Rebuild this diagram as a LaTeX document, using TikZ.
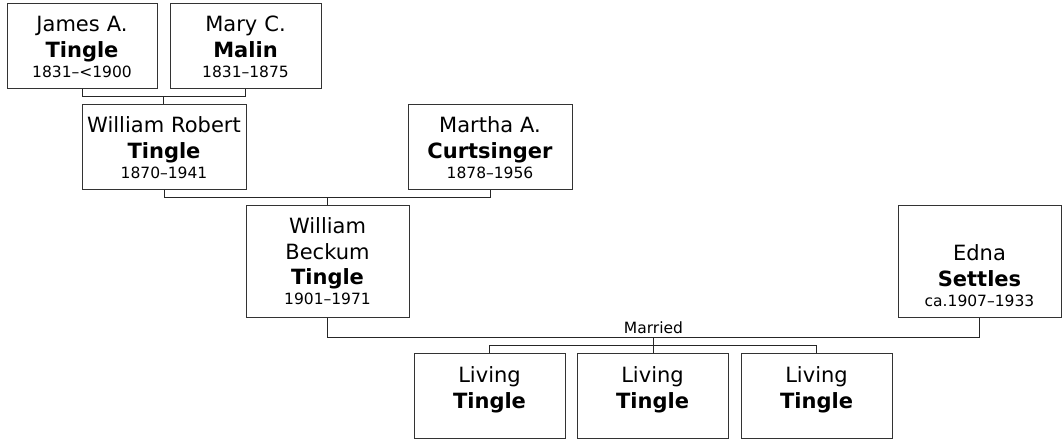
\documentclass[tikz,border=0pt]{standalone}
\usepackage{fontspec}
\setmainfont{DejaVu Sans}
\usepackage{tikz}
\usetikzlibrary{positioning, calc}

\newcommand{\yrs}[1]{{\fontsize{15.5}{19}\selectfont #1}}

\begin{document}
\begin{tikzpicture}[
  x=1pt, y=-1pt,
  person/.style={rectangle, draw=black!80, line width=1pt, minimum height=85pt},
  names/.style={anchor=base, text width=170pt, align=center, inner sep=0pt, font=\fontsize{21}{25.5}\selectfont},
  link/.style={draw=black!85, line width=0.9pt},
  tag/.style={font=\fontsize{15.5}{19}\selectfont, inner sep=1pt}
]
  \useasboundingbox (0,0) rectangle (1062,440);

  \node[person, minimum width=150pt] (james)  at (82,45.5)    {};
  \node[person, minimum width=151pt] (mary)   at (245.5,45.5) {};
  \node[person, minimum width=164pt] (wr)     at (164,146.5)  {};
  \node[person, minimum width=164pt] (martha) at (490,146.5)  {};
  \node[person, minimum width=163pt, minimum height=112pt] (wb)   at (327.5,261) {};
  \node[person, minimum width=163pt, minimum height=112pt] (edna) at (979.5,261) {};
  \node[person, minimum width=151pt] (kid1) at (489.5,395.5) {};
  \node[person, minimum width=151pt] (kid2) at (652.5,395.5) {};
  \node[person, minimum width=151pt] (kid3) at (816.5,395.5) {};

  \node[names] (james-t)  at ([yshift=-29pt]james.north)  {James A.\\\textbf{Tingle}\\[-5.5pt]\yrs{1831–<1900}};
  \node[names] (mary-t)   at ([yshift=-29pt]mary.north)   {Mary C.\\\textbf{Malin}\\[-5.5pt]\yrs{1831–1875}};
  \node[names] (wr-t)     at ([yshift=-29pt]wr.north)     {William Robert\\\textbf{Tingle}\\[-5.5pt]\yrs{1870–1941}};
  \node[names] (martha-t) at ([yshift=-29pt]martha.north) {Martha A.\\\textbf{Curtsinger}\\[-5.5pt]\yrs{1878–1956}};
  \node[names] (wb-t)     at ([yshift=-29pt]wb.north)     {William\\Beckum\\\textbf{Tingle}\\[-5.5pt]\yrs{1901–1971}};
  \node[names] (edna-t)   at ([yshift=-56pt]edna.north)   {Edna\\\textbf{Settles}\\[-5.5pt]\yrs{ca.1907–1933}};
  \node[names] (kid1-t)   at ([yshift=-30pt]kid1.north)   {Living\\\textbf{Tingle}};
  \node[names] (kid2-t)   at ([yshift=-30pt]kid2.north)   {Living\\\textbf{Tingle}};
  \node[names] (kid3-t)   at ([yshift=-30pt]kid3.north)   {Living\\\textbf{Tingle}};

  % parents of William Robert
  \coordinate (jm) at ($(james.south)!0.5!(mary.south)+(0,8)$);
  \draw[link] (james.south) |- (jm) -| (mary.south);
  \draw[link] (jm) -- (jm |- wr.north);

  % parents of William Beckum
  \coordinate (wm) at ($(wr.south)!0.5!(martha.south)+(0,8)$);
  \draw[link] (wr.south) |- (wm) -| (martha.south);
  \draw[link] (wm) -- (wm |- wb.north);

  % marriage and children
  \coordinate (we) at ($(wb.south)!0.5!(edna.south)+(0,20)$);
  \draw[link] (wb.south) |- (we) -| (edna.south);
  \node[tag, above=3pt of we] (married) {Married};
  \coordinate (kids) at ($(we)+(0,8)$);
  \draw[link] (we) -- (kids);
  \draw[link] (kid1.north) |- (kids) -| (kid3.north);
  \draw[link] (kids) -- (kids |- kid2.north);
\end{tikzpicture}
\end{document}
